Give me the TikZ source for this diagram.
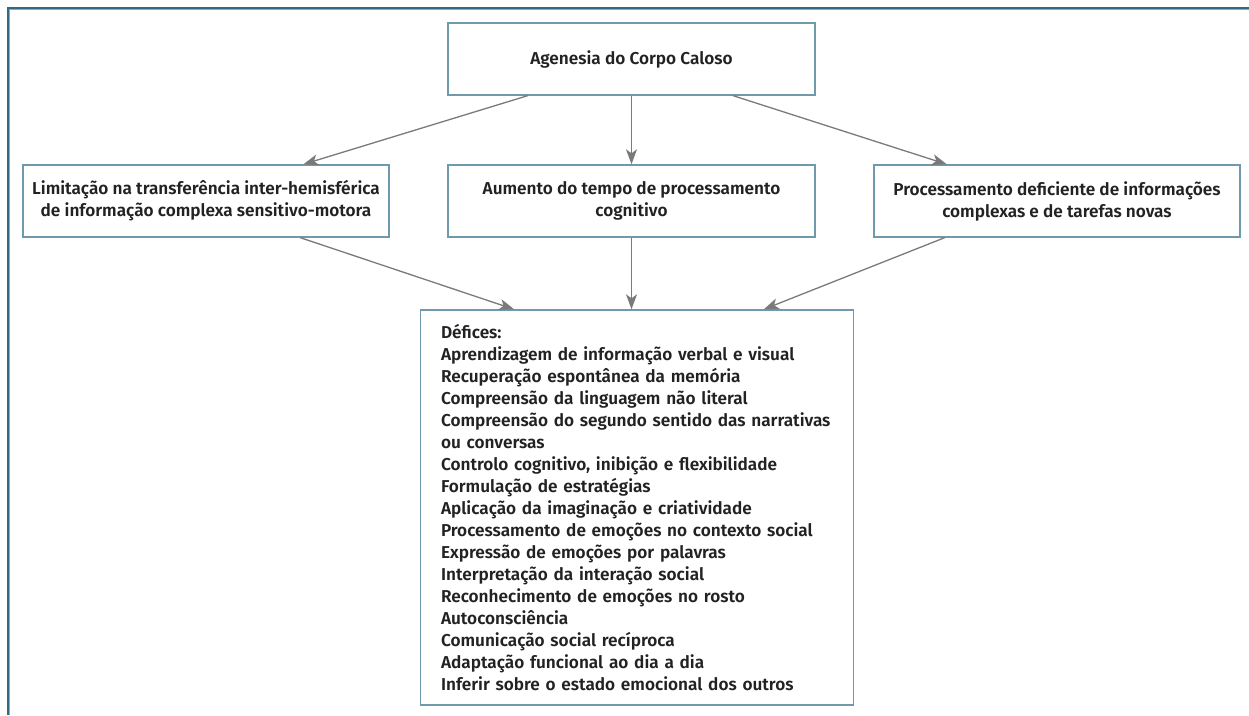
\documentclass[tikz,border=0pt]{standalone}
\usepackage{fontspec}
\setmainfont{Fira Sans}[BoldFont={Fira Sans SemiBold}]
\usetikzlibrary{arrows.meta,calc}
\definecolor{framedark}{HTML}{2E6C83}
\definecolor{framelight}{HTML}{86AEBE}
\definecolor{boxc}{HTML}{6E9AAC}
\definecolor{arrc}{HTML}{7A7A7A}
\definecolor{txt}{HTML}{222222}
\tikzset{
  box/.style={draw=boxc, line width=1.4pt, minimum height=72pt, inner sep=0pt,
    align=center, text=txt, font=\fontsize{17.2}{22}\selectfont\bfseries},
  arr/.style={draw=arrc, line width=1.3pt, -{Stealth[length=15pt,width=11pt,inset=4pt]}},
}
\begin{document}
\begin{tikzpicture}[x=1pt,y=-1pt]
\useasboundingbox (0,0) rectangle (1249,715);
\draw[framedark, line width=2.5pt] (8,715) -- (8,8) -- (1249,8);
\draw[framelight, line width=1pt] (9.75,715) -- (9.75,9.75) -- (1249,9.75);

\node[box, minimum width=367pt] (top) at (631.5,59) {Agenesia do Corpo Caloso};
\node[box, minimum width=366pt] (left) at (206,201) {Limitação na transferência inter-hemisférica\\de informação complexa sensitivo-motora};
\node[box, minimum width=367pt] (mid) at (631.5,201) {Aumento do tempo de processamento\\cognitivo};
\node[box, minimum width=366pt] (right) at (1057,201) {Processamento deficiente de informações\\complexas e de tarefas novas};
\node[box, minimum width=433pt, minimum height=395pt, align=left, text width=392pt] (def) at (637,507.5) {Défices:\\
Aprendizagem de informação verbal e visual\\
Recuperação espontânea da memória\\
Compreensão da linguagem não literal\\
Compreensão do segundo sentido das narrativas\\
ou conversas\\
Controlo cognitivo, inibição e flexibilidade\\
Formulação de estratégias\\
Aplicação da imaginação e criatividade\\
Processamento de emoções no contexto social\\
Expressão de emoções por palavras\\
Interpretação da interação social\\
Reconhecimento de emoções no rosto\\
Autoconsciência\\
Comunicação social recíproca\\
Adaptação funcional ao dia a dia\\
Inferir sobre o estado emocional dos outros};

\draw[arr] ($(top.south west)!0.218!(top.south east)$) -- ($(left.north west)!0.765!(left.north east)$);
\draw[arr] (top.south) -- (mid.north);
\draw[arr] ($(top.south west)!0.776!(top.south east)$) -- ($(right.north west)!0.2!(right.north east)$);
\draw[arr] ($(left.south west)!0.757!(left.south east)$) -- ($(def.north west)!0.217!(def.north east)$);
\draw[arr] (mid.south) -- (mid.south |- def.north);
\draw[arr] ($(right.south west)!0.194!(right.south east)$) -- ($(def.north west)!0.792!(def.north east)$);
\end{tikzpicture}
\end{document}
